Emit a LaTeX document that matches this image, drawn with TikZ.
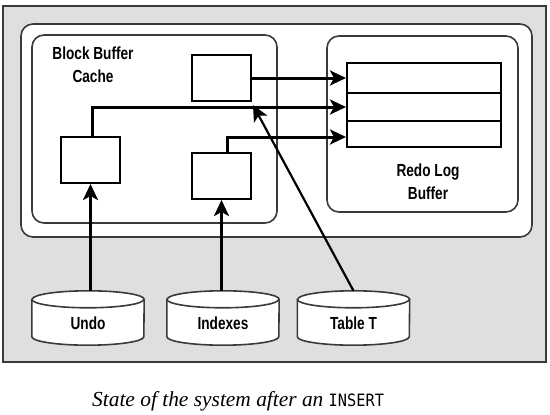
\documentclass[tikz,border=0pt]{standalone}
\usepackage{fontspec}
\setmainfont{Liberation Serif}
\newfontfamily\lblfont[FakeStretch=0.78]{Liberation Sans}
\newfontfamily\capmono[FakeStretch=0.9]{DejaVu Sans Mono}
\usetikzlibrary{arrows.meta}
\definecolor{bggray}{HTML}{DFDFDF}
\definecolor{edge}{HTML}{3A3A3A}
\newcommand\drawcyl[1]{%
  \draw[fill=white, draw=edge, line width=1.6pt]
    ([yshift=-8.5pt]#1.north west) -- ([yshift=8.5pt]#1.south west)
    arc[start angle=180, end angle=360, x radius=56pt, y radius=8.5pt]
    -- ([yshift=-8.5pt]#1.north east)
    arc[start angle=0, end angle=180, x radius=56pt, y radius=8.5pt] -- cycle;
  \draw[draw=edge, line width=1.6pt] ([yshift=-8.5pt]#1.north west)
    arc[start angle=180, end angle=360, x radius=56pt, y radius=8.5pt];}
\begin{document}
\begin{tikzpicture}[x=1pt,y=-1pt,
  container/.style={draw=edge, line width=1.6pt, rounded corners=12pt, fill=white, inner sep=0pt},
  box/.style={draw=black, line width=2pt, fill=white, minimum width=59pt, minimum height=46pt, inner sep=0pt},
  rowbox/.style={draw=black, line width=2pt, fill=white, minimum width=154pt, inner sep=0pt},
  arr/.style={-{Stealth[length=16pt,width=15pt,inset=4pt]}, line width=3pt},
  lbl/.style={font=\lblfont\bfseries\fontsize{17.5}{23}\selectfont, align=center, inner sep=0pt},
  cylnode/.style={minimum width=112pt, minimum height=54pt, inner sep=0pt}]
\useasboundingbox (0,0) rectangle (550,415);
% background
\draw[fill=bggray, draw=edge, line width=1.6pt] (3,6) rectangle (546,362);
\draw[container] (21,24) rectangle (532,237);
% containers
\node[container, minimum width=245pt, minimum height=188pt] (bbc) at (154.5,129) {};
\node[container, minimum width=191pt, minimum height=176pt] (redo) at (422.5,124) {};
\node[lbl] (bbclbl) at (93,65) {Block Buffer\\Cache};
\node[lbl] (redolbl) at (428,182) {Redo Log\\Buffer};
% redo rows
\node[rowbox, minimum height=30pt] (r1) at (424,78) {};
\node[rowbox, minimum height=28pt] (r2) at (424,107) {};
\node[rowbox, minimum height=26pt] (r3) at (424,134) {};
% blocks
\node[box] (tb) at (221.5,78) {};
\node[box] (ub) at (90.5,160) {};
\node[box] (ib) at (221.5,176) {};
% cylinders
\node[cylnode] (undo) at (88,318) {};
\node[cylnode] (idx) at (223,318) {};
\node[cylnode] (tab) at (353.5,318) {};
\drawcyl{undo}\drawcyl{idx}\drawcyl{tab}
\node[lbl] (undotxt) at ([yshift=-5pt]undo.center) {Undo};
\node[lbl] (idxtxt) at ([yshift=-5pt]idx.center) {Indexes};
\node[lbl] (tabtxt) at ([yshift=-5pt]tab.center) {Table T};
% connectors
\draw[arr] (tb.east) -- (r1.west);
\draw[arr] ([xshift=1.5pt]ub.north) |- (r2.west);
\draw[arr] ([xshift=5.5pt]ib.north) |- ([yshift=-3pt]r3.west);
\draw[arr] (ub.south |- undo.north) -- (ub.south);
\draw[arr] (ib.south |- idx.north) -- (ib.south);
\draw[arr, line width=2.2pt] (tab.north) -- ([shift={(1pt,-3pt)}]tb.south east);
% caption
\node[anchor=base west, inner sep=0pt, font=\fontsize{21.4}{25}\selectfont\itshape] (cap) at (92,406)
  {State of the system after an {\capmono\upshape\fontsize{17}{20}\selectfont INSERT}};
\end{tikzpicture}
\end{document}
